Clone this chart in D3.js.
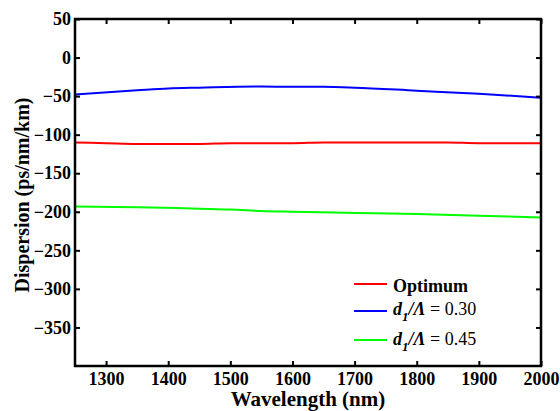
<!DOCTYPE html>
<html>
<head>
<meta charset="utf-8">
<script src="https://cdn.jsdelivr.net/npm/d3@7"></script>
<style>
  body { margin: 0; background: #fff; }
  svg text { font-family: "Liberation Serif", "Times New Roman", serif; }
</style>
</head>
<body>
<script>
// wavelength samples (nm) and dispersion (ps/nm/km)
var optX = [1250, 1300, 1350, 1450, 1500, 1600, 1650, 1850, 1900, 2000];
var optY = [-110, -111, -112, -112, -111, -111, -110, -110, -111, -111];

var d30X = [1250, 1350, 1400, 1450, 1550, 1600, 1650, 1700, 1800, 1900, 2000];
var d30Y = [-48, -42.5, -40, -39, -37.5, -38, -38, -39, -43, -47, -52];

var d45X = [1250, 1350, 1450, 1500, 1550, 1600, 1700, 1800, 1900, 2000];
var d45Y = [-193, -194, -196, -197, -199, -200, -201.5, -203, -205, -207.5];

var xTicks = [1300, 1400, 1500, 1600, 1700, 1800, 1900, 2000];
var yTicks = [50, 0, -50, -100, -150, -200, -250, -300, -350];

var w = 560, h = 411;
// plot box edges (window.top is read-only, so prefixed names)
var pL = 75, pR = 541, pT = 19, pB = 366;

var x = d3.scaleLinear().domain([1250, 2000]).range([pL, pR]);
var y = d3.scaleLinear().domain([-400, 50]).range([pB, pT]);

var svg = d3.select("body").append("svg")
    .attr("width", w)
    .attr("height", h);

// lines
var line = d3.line()
    .x(function(d) { return x(d[0]); })
    .y(function(d) { return y(d[1]); })
    .curve(d3.curveMonotoneX);

var series = [
  {xs: d30X, ys: d30Y, color: "#0000ff"},
  {xs: optX, ys: optY, color: "#ff0000"},
  {xs: d45X, ys: d45Y, color: "#00ff00"}
];

series.forEach(function(s) {
  svg.append("path")
    .attr("d", line(d3.zip(s.xs, s.ys)))
    .attr("fill", "none")
    .attr("stroke", s.color)
    .attr("stroke-width", 2);
});

// axes (ticks inside, mirrored)
var fmt = d3.format("d");
svg.append("g")
  .attr("transform", "translate(0," + pB + ")")
  .call(d3.axisBottom(x).tickValues(xTicks).tickSize(-5).tickPadding(6).tickFormat(fmt));
svg.append("g")
  .attr("transform", "translate(0," + pT + ")")
  .call(d3.axisTop(x).tickValues(xTicks).tickSize(-5).tickFormat(""));
svg.append("g")
  .attr("transform", "translate(" + pL + ",0)")
  .call(d3.axisLeft(y).tickValues(yTicks).tickSize(-5).tickPadding(4).tickFormat(fmt));
svg.append("g")
  .attr("transform", "translate(" + pR + ",0)")
  .call(d3.axisRight(y).tickValues(yTicks).tickSize(-5).tickFormat(""));

svg.selectAll(".domain").remove();
svg.selectAll(".tick line").attr("stroke", "#000").attr("stroke-width", 2);
svg.selectAll(".tick text")
  .attr("fill", "#000")
  .style("font-size", "18px")
  .style("font-weight", "bold");

svg.append("rect")
  .attr("x", pL).attr("y", pT)
  .attr("width", pR - pL).attr("height", pB - pT)
  .attr("fill", "none")
  .attr("stroke", "#000")
  .attr("stroke-width", 2.5);

// axis titles
svg.append("text")
  .attr("x", (pL + pR) / 2)
  .attr("y", 406)
  .attr("text-anchor", "middle")
  .style("font-size", "21px")
  .style("font-weight", "bold")
  .text("Wavelength (nm)");

svg.append("text")
  .attr("transform", "translate(29,195) rotate(-90)")
  .attr("text-anchor", "middle")
  .style("font-size", "20px")
  .style("font-weight", "bold")
  .text("Dispersion (ps/nm/km)");

// legend
var legend = [
  {color: "#ff0000", val: null},
  {color: "#0000ff", val: "0.30"},
  {color: "#00ff00", val: "0.45"}
];
var legLineY = [284, 311, 340];
var legTextY = [292, 315, 345];

legend.forEach(function(l, i) {
  svg.append("line")
    .attr("x1", 354).attr("x2", 387)
    .attr("y1", legLineY[i]).attr("y2", legLineY[i])
    .attr("stroke", l.color)
    .attr("stroke-width", 2);
  var t = svg.append("text")
    .attr("x", 393)
    .attr("y", legTextY[i])
    .style("font-size", "18px");
  if (l.val === null) {
    t.style("font-weight", "bold").text("Optimum");
  } else {
    t.append("tspan").style("font-weight", "bold").style("font-style", "italic").text("d");
    t.append("tspan").attr("dy", 6).style("font-size", "13px")
      .style("font-weight", "bold").style("font-style", "italic").text("1");
    t.append("tspan").attr("dy", -6).style("font-weight", "bold").style("font-style", "italic").text("/Λ");
    t.append("tspan").text(" = " + l.val);
  }
});
</script>
</body>
</html>
